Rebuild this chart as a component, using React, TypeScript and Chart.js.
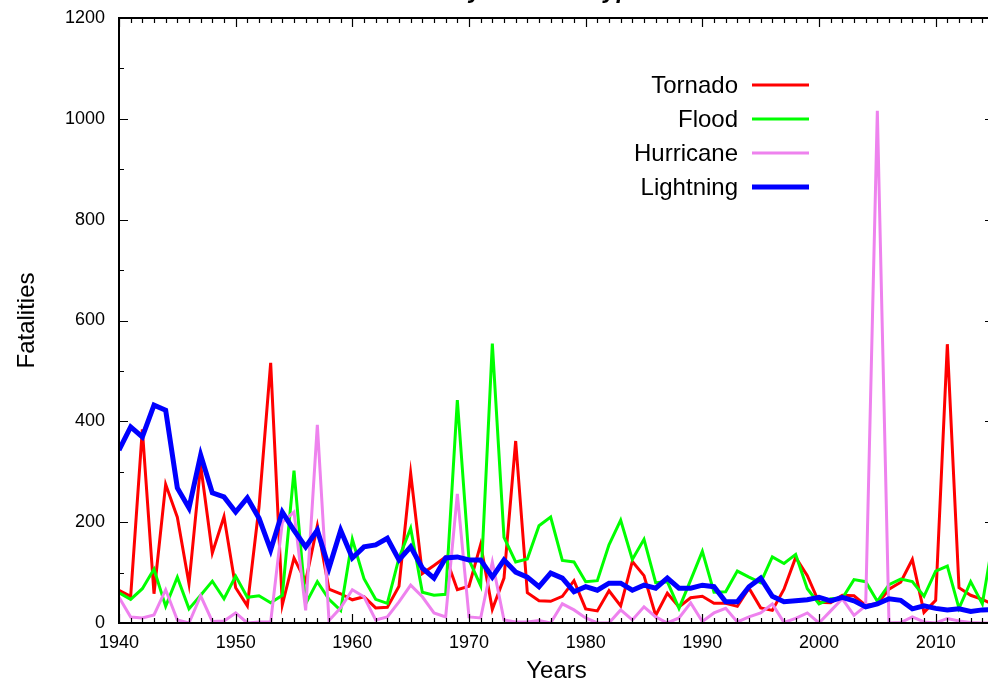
import React, { useEffect, useRef } from "react";
import { Chart, registerables } from "chart.js";
Chart.register(...registerables);

const FONT = '"Liberation Sans", Arial, Helvetica, sans-serif';

const titleText = "Fatalities by Weather Type";
const xAxisLabel = "Years";
const yAxisLabel = "Fatalities";

const years = [
  1940, 1941, 1942, 1943, 1944, 1945, 1946, 1947, 1948, 1949,
  1950, 1951, 1952, 1953, 1954, 1955, 1956, 1957, 1958, 1959,
  1960, 1961, 1962, 1963, 1964, 1965, 1966, 1967, 1968, 1969,
  1970, 1971, 1972, 1973, 1974, 1975, 1976, 1977, 1978, 1979,
  1980, 1981, 1982, 1983, 1984, 1985, 1986, 1987, 1988, 1989,
  1990, 1991, 1992, 1993, 1994, 1995, 1996, 1997, 1998, 1999,
  2000, 2001, 2002, 2003, 2004, 2005, 2006, 2007, 2008, 2009,
  2010, 2011, 2012, 2013, 2014, 2015,
];

const tornado = [
  65, 53, 384, 58, 275, 210, 78, 313, 139, 211,
  70, 34, 230, 516, 36, 129, 83, 193, 67, 58,
  46, 52, 30, 31, 73, 297, 98, 114, 131, 66,
  73, 156, 27, 89, 361, 60, 44, 43, 53, 84,
  28, 24, 64, 34, 122, 94, 15, 59, 32, 50,
  53, 39, 39, 33, 69, 30, 25, 67, 130, 94,
  41, 40, 55, 54, 35, 38, 67, 81, 126, 21,
  45, 553, 70, 55, 47, 36,
];

const flood = [
  60, 47, 68, 107, 33, 91, 28, 55, 83, 48,
  93, 51, 54, 40, 55, 302, 38, 82, 47, 25,
  166, 88, 47, 39, 129, 188, 61, 55, 57, 442,
  125, 74, 554, 170, 121, 127, 193, 210, 124, 121,
  82, 84, 155, 204, 126, 166, 80, 82, 29, 85,
  142, 61, 62, 103, 91, 80, 131, 118, 136, 68,
  38, 48, 49, 86, 82, 43, 76, 87, 82, 53,
  103, 113, 29, 82, 38, 176,
];

const hurricane = [
  51, 12, 10, 16, 66, 6, 0, 54, 3, 4,
  20, 0, 2, 2, 200, 220, 25, 393, 5, 30,
  66, 52, 6, 12, 42, 75, 52, 20, 12, 256,
  12, 10, 121, 6, 2, 2, 5, 0, 38, 26,
  10, 0, 0, 26, 6, 32, 12, 0, 10, 40,
  3, 20, 29, 2, 12, 20, 38, 1, 9, 20,
  0, 24, 48, 15, 34, 1016, 0, 1, 12, 2,
  0, 9, 4, 1, 0, 0,
];

const lightning = [
  343, 389, 369, 432, 422, 268, 228, 333, 258, 250,
  220, 248, 208, 145, 220, 184, 151, 184, 109, 184,
  129, 151, 155, 168, 125, 151, 109, 89, 129, 131,
  125, 125, 91, 125, 101, 91, 72, 99, 89, 62,
  72, 65, 79, 79, 65, 75, 69, 89, 69, 69,
  75, 72, 42, 42, 72, 89, 53, 42, 44, 46,
  51, 44, 51, 44, 32, 38, 48, 45, 28, 34,
  29, 26, 28, 23, 26, 27,
];

const seriesNames = ["Tornado", "Flood", "Hurricane", "Lightning"];
const seriesColors = ["#ff0000", "#00ff00", "#ee82ee", "#0000ff"];
const seriesWidths = [3, 3, 3, 5];
const seriesData = [tornado, flood, hurricane, lightning];

const xMin = 1940;
const xMax = 2015;
const yMin = 0;
const yMax = 1200;

const overlayPlugin = {
  id: "overlay",
  afterDraw(chart: any) {
    const { ctx, chartArea } = chart;
    const { left, top, right, bottom } = chartArea;
    const xs = chart.scales.x;
    const ys = chart.scales.y;
    ctx.save();
    // frame
    ctx.strokeStyle = "#000";
    ctx.lineWidth = 2;
    ctx.strokeRect(left, top, right - left, bottom - top);
    // ticks
    ctx.lineWidth = 1.2;
    ctx.beginPath();
    for (let v = xMin; v <= xMax; v++) {
      const px = Math.round(xs.getPixelForValue(v)) + 0.5;
      const len = v % 10 === 0 ? 9 : 5;
      ctx.moveTo(px, bottom);
      ctx.lineTo(px, bottom - len);
      ctx.moveTo(px, top);
      ctx.lineTo(px, top + len);
    }
    for (let v = yMin; v <= yMax; v += 100) {
      const py = Math.round(ys.getPixelForValue(v)) + 0.5;
      const len = v % 200 === 0 ? 9 : 5;
      ctx.moveTo(left, py);
      ctx.lineTo(left + len, py);
      ctx.moveTo(right, py);
      ctx.lineTo(right - len, py);
    }
    ctx.stroke();

    // title (lies almost entirely above the visible area; only descenders show)
    ctx.fillStyle = "#000";
    ctx.font = `italic bold 24px ${FONT}`;
    ctx.textAlign = "center";
    ctx.textBaseline = "alphabetic";
    ctx.fillText(titleText, 494, -2);

    // legend
    ctx.font = `24px ${FONT}`;
    ctx.textAlign = "right";
    ctx.textBaseline = "middle";
    const legendY0 = 85;
    const legendStep = 34;
    for (let i = 0; i < seriesNames.length; i++) {
      const y = legendY0 + i * legendStep;
      ctx.fillStyle = "#000";
      ctx.fillText(seriesNames[i], 738, y + 1);
      ctx.strokeStyle = seriesColors[i];
      ctx.lineWidth = seriesWidths[i];
      ctx.beginPath();
      ctx.moveTo(752, y);
      ctx.lineTo(809, y);
      ctx.stroke();
    }
    ctx.restore();
  },
};

export default function App() {
  const ref = useRef<HTMLCanvasElement | null>(null);
  useEffect(() => {
    if (!ref.current) return;
    const datasets = seriesNames.map((name, i) => ({
      label: name,
      data: years.map((yr, j) => ({ x: yr, y: seriesData[i][j] })),
      borderColor: seriesColors[i],
      backgroundColor: seriesColors[i],
      borderWidth: seriesWidths[i],
      pointRadius: 0,
      tension: 0,
      fill: false,
      order: seriesNames.length - 1 - i,
    }));
    const chart = new Chart(ref.current, {
      type: "line",
      data: { datasets },
      options: {
        animation: false,
        responsive: false,
        maintainAspectRatio: false,
        layout: { padding: { left: 0, top: 18, right: 6, bottom: 0 } },
        plugins: {
          legend: { display: false },
          tooltip: { enabled: false },
          title: { display: false },
        },
        scales: {
          x: {
            type: "linear",
            min: xMin,
            max: xMax,
            afterFit: (s: any) => {
              s.height = 63;
              s.paddingLeft = 0;
              s.paddingRight = 0;
            },
            grid: { display: false, drawTicks: false },
            border: { display: false },
            ticks: {
              stepSize: 10,
              includeBounds: false,
              autoSkip: false,
              maxRotation: 0,
              padding: 9,
              color: "#000",
              font: { family: FONT, size: 18 },
              callback: (v: any) => String(v),
            },
            title: {
              display: true,
              text: xAxisLabel,
              color: "#000",
              font: { family: FONT, size: 24 },
              padding: { top: 0, bottom: 0 },
            },
          },
          y: {
            type: "linear",
            min: yMin,
            max: yMax,
            afterFit: (s: any) => {
              s.width = 119;
              s.paddingTop = 0;
              s.paddingBottom = 0;
            },
            grid: { display: false, drawTicks: false },
            border: { display: false },
            ticks: {
              stepSize: 200,
              padding: 14,
              color: "#000",
              font: { family: FONT, size: 18 },
              callback: (v: any) => String(v),
            },
            title: {
              display: true,
              text: yAxisLabel,
              color: "#000",
              font: { family: FONT, size: 24 },
              padding: { top: 13, bottom: 0 },
            },
          },
        },
      },
      plugins: [overlayPlugin],
    });
    return () => chart.destroy();
  }, []);
  return (
    <div
      style={{
        position: "fixed",
        left: 0,
        top: 0,
        width: 988,
        height: 686,
        overflow: "hidden",
        background: "#fff",
      }}
    >
      <canvas ref={ref} width={1000} height={686} style={{ display: "block" }} />
    </div>
  );
}
